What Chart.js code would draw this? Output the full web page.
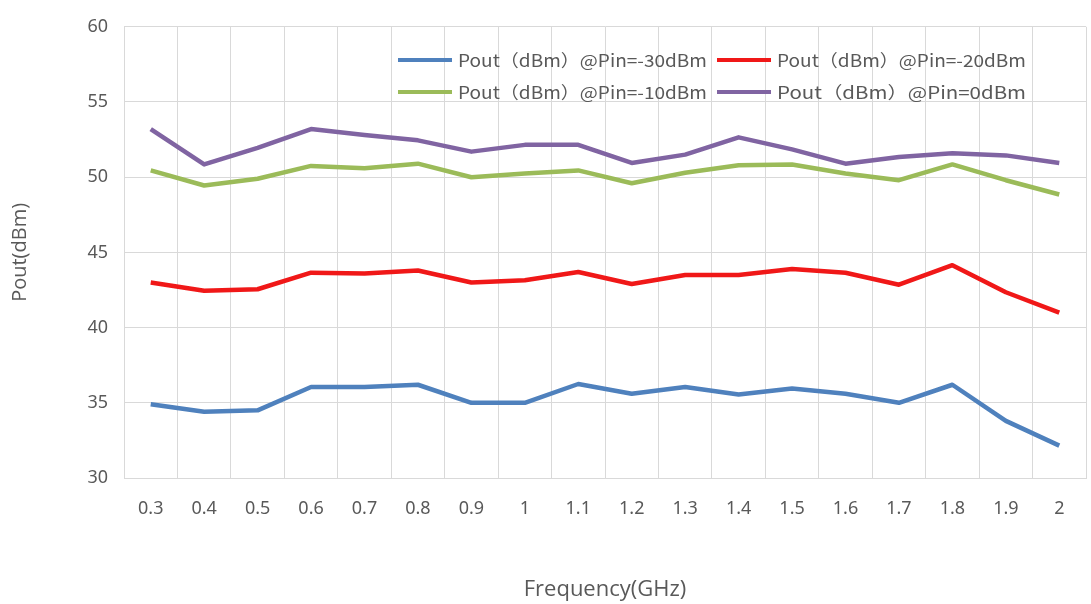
<!DOCTYPE html>
<html>
<head>
<meta charset="utf-8">
<script src="https://cdn.jsdelivr.net/npm/chart.js@4/dist/chart.umd.min.js"></script>
<style>
html,body{margin:0;padding:0;background:#ffffff;}
#wrap{width:1091px;height:604px;}
</style>
</head>
<body>
<div id="wrap"><canvas id="c" width="1091" height="604"></canvas></div>
<script>
// ---- data ----
const categories = ['0.3','0.4','0.5','0.6','0.7','0.8','0.9','1','1.1','1.2','1.3','1.4','1.5','1.6','1.7','1.8','1.9','2'];
const poutPinMinus30 = [34.9, 34.4, 34.5, 36.05, 36.05, 36.2, 35.0, 35.0, 36.25, 35.6, 36.05, 35.55, 35.95, 35.6, 35.0, 36.2, 33.8, 32.15];
const poutPinMinus20 = [43.0, 42.45, 42.55, 43.65, 43.6, 43.8, 43.0, 43.15, 43.7, 42.9, 43.5, 43.5, 43.9, 43.65, 42.85, 44.15, 42.35, 41.0];
const poutPinMinus10 = [50.45, 49.45, 49.9, 50.75, 50.6, 50.9, 50.0, 50.25, 50.45, 49.6, 50.3, 50.8, 50.85, 50.25, 49.8, 50.85, 49.8, 48.85];
const poutPin0       = [53.2, 50.85, 51.95, 53.2, 52.8, 52.45, 51.7, 52.15, 52.15, 50.95, 51.5, 52.65, 51.85, 50.9, 51.35, 51.6, 51.45, 50.95];
const seriesLabels = ['Pout（dBm）@Pin=-30dBm','Pout（dBm）@Pin=-20dBm','Pout（dBm）@Pin=-10dBm','Pout（dBm）@Pin=0dBm'];
const seriesColors = ['#4f81bd','#f01818','#9bbb59','#8064a2'];
const yMin = 30, yMax = 60, yStep = 5;
const xTitle = 'Frequency(GHz)';
const yTitle = 'Pout(dBm)';

const TEXT = '#595959';
const GRID = '#d9d9d9';

// legend drawn inside the plot area (two rows x two columns)
const insideLegend = {
  id: 'insideLegend',
  afterDraw(chart) {
    const ctx = chart.ctx;
    const cols = [398, 717];
    const rows = [60, 92];
    const sample = 54;
    const targetW = 249;
    ctx.save();
    ctx.font = '17px "Noto Sans CJK SC", "Noto Sans", sans-serif';
    ctx.textBaseline = 'middle';
    ctx.fillStyle = TEXT;
    chart.data.datasets.forEach((ds, i) => {
      const x = cols[i % 2], y = rows[Math.floor(i / 2)];
      ctx.strokeStyle = ds.borderColor;
      ctx.lineWidth = 4;
      ctx.lineCap = 'butt';
      ctx.beginPath();
      ctx.moveTo(x, y);
      ctx.lineTo(x + sample, y);
      ctx.stroke();
      const w = ctx.measureText(ds.label).width;
      const sx = targetW / w;
      ctx.save();
      ctx.translate(x + sample + 6, y + 1);
      ctx.scale(sx, 1);
      ctx.fillText(ds.label, 0, 0);
      ctx.restore();
    });
    ctx.restore();
  }
};

const seriesData = [poutPinMinus30, poutPinMinus20, poutPinMinus10, poutPin0];

new Chart(document.getElementById('c'), {
  type: 'line',
  data: {
    labels: categories,
    datasets: seriesData.map((d, i) => ({
      label: seriesLabels[i],
      data: d,
      borderColor: seriesColors[i],
      backgroundColor: seriesColors[i],
      borderWidth: 4.5,
      pointRadius: 0,
      pointHoverRadius: 0,
      tension: 0,
      borderJoinStyle: 'round',
      fill: false
    }))
  },
  options: {
    responsive: false,
    devicePixelRatio: 1,
    animation: false,
    layout: { padding: { top: 21, right: 5, left: 0, bottom: 0 } },
    plugins: {
      legend: { display: false },
      tooltip: { enabled: false },
      title: { display: false }
    },
    scales: {
      x: {
        type: 'category',
        offset: true,
        grid: { color: GRID, lineWidth: 1, drawTicks: false, offset: true },
        border: { color: GRID, width: 1 },
        ticks: {
          color: TEXT, padding: 20, maxRotation: 0, autoSkip: false,
          font: { family: '"Noto Sans", sans-serif', size: 18 }
        },
        title: {
          display: true, text: xTitle, color: TEXT,
          font: { family: '"Open Sans", sans-serif', size: 22 },
          padding: { top: 0, bottom: 1 }
        },
        afterFit(s) { s.height = 126; }
      },
      y: {
        min: yMin, max: yMax,
        grid: { color: GRID, lineWidth: 1, drawTicks: false },
        border: { color: GRID, width: 1 },
        ticks: {
          stepSize: yStep, color: TEXT, padding: 16,
          font: { family: '"Noto Sans", sans-serif', size: 18 }
        },
        title: {
          display: true, text: yTitle, color: TEXT,
          font: { family: '"Open Sans", sans-serif', size: 20 },
          padding: { top: 8, bottom: 0 }
        },
        afterFit(s) { s.width = 124; }
      }
    }
  },
  plugins: [insideLegend]
});
</script>
</body>
</html>
